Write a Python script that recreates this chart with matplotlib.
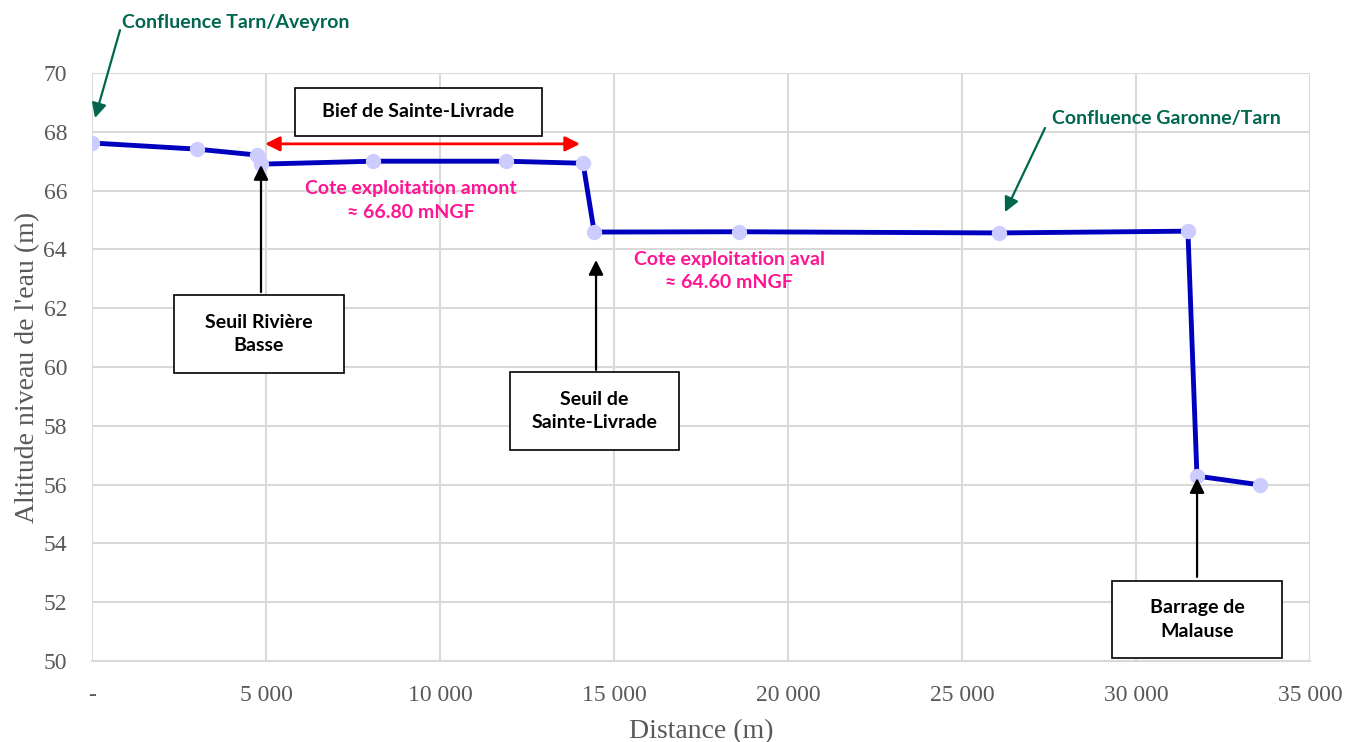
import matplotlib
matplotlib.use("Agg")
import matplotlib.pyplot as plt
from matplotlib.patches import Rectangle
from matplotlib.ticker import FuncFormatter

# profil en long de la ligne d'eau
distance = [0, 3020, 4740, 4860, 8080, 11900, 14110, 14430, 18590, 26060, 31490, 31750, 33560]
altitude = [67.62, 67.41, 67.21, 66.90, 67.00, 67.00, 66.93, 64.59, 64.60, 64.56, 64.62, 56.29, 55.99]

x_ticks = [0, 5000, 10000, 15000, 20000, 25000, 30000, 35000]
y_ticks = [50, 52, 54, 56, 58, 60, 62, 64, 66, 68, 70]

line_col = "#0000BF"
marker_col = "#CCCCFF"
green = "#00664F"
pink = "#FF1493"
grey_txt = "#595959"
grid_col = "#D9D9D9"

fig = plt.figure(figsize=(13.51, 7.42), dpi=100)
ax = fig.add_axes([0.0681, 0.1092, 0.9016, 0.7924])

ax.plot(distance, altitude, color=line_col, lw=3.5, marker="o", ms=10,
        mfc=marker_col, mec=marker_col, zorder=3)

ax.set_xlim(0, 35000)
ax.set_ylim(50, 70)
ax.set_xticks(x_ticks)
ax.set_yticks(y_ticks)


def fmt_thousands(v, pos):
    if v == 0:
        return "-"
    return f"{int(v):,}".replace(",", " ")


ax.xaxis.set_major_formatter(FuncFormatter(fmt_thousands))
ax.grid(True, color=grid_col, lw=1.5)
ax.set_axisbelow(True)
for s in ["top", "right", "left"]:
    ax.spines[s].set_visible(False)
ax.spines["bottom"].set_color(grid_col)
ax.spines["bottom"].set_linewidth(1.5)
ax.tick_params(length=0, labelsize=17, labelcolor=grey_txt)
ax.tick_params(axis="x", pad=17)
ax.tick_params(axis="y", pad=18)
for lab in ax.get_xticklabels() + ax.get_yticklabels():
    lab.set_family("Liberation Serif")

ax.set_xlabel("Distance (m)", fontsize=20, color=grey_txt, family="Liberation Serif", labelpad=10)
ax.set_ylabel("Altitude niveau de l'eau (m)", fontsize=20, color=grey_txt, family="Liberation Serif", labelpad=2)

bold = dict(family="Lato", fontweight="bold", fontsize=14)

# boites noires avec fleche
boxes = [
    ("Seuil Rivière\nBasse", (2356, 59.80), 4885, 2.65, (4856, 62.55), (4856, 66.87)),
    ("Seuil de\nSainte-Livrade", (12011, 57.18), 4857, 2.65, (14483, 59.90), (14483, 63.64)),
    ("Barrage de\nMalause", (29310, 50.10), 4885, 2.62, (31753, 52.86), (31753, 56.22)),
]
for txt, xy, w, h, tail, tip in boxes:
    ax.add_patch(Rectangle(xy, w, h, fill=True, fc="white", ec="black", lw=1.2,
                           clip_on=False, zorder=5))
    ax.text(xy[0] + w / 2, xy[1] + h / 2, txt, ha="center", va="center",
            linespacing=1.45, zorder=6, **bold)
    ax.annotate("", xy=tip, xytext=tail,
                arrowprops=dict(arrowstyle="-|>", color="black", lw=1.6,
                                mutation_scale=22, shrinkA=0, shrinkB=0), zorder=6)

# bief
ax.add_patch(Rectangle((5833, 67.86), 7098, 1.63, fill=True, fc="white", ec="black",
                       lw=1.2, zorder=5))
ax.text(5833 + 7098 / 2, 67.86 + 1.63 / 2, "Bief de Sainte-Livrade", ha="center",
        va="center", zorder=6, **bold)
ax.annotate("", xy=(4971, 67.59), xytext=(14023, 67.59),
            arrowprops=dict(arrowstyle="<|-|>", color="red", lw=2,
                            mutation_scale=22, shrinkA=0, shrinkB=0), zorder=6)

# cotes d'exploitation
ax.text(9167, 65.66, "Cote exploitation amont\n≈ 66.80 mNGF", ha="center", va="center",
        color=pink, linespacing=1.45, **bold)
ax.text(18305, 63.27, "Cote exploitation aval\n≈ 64.60 mNGF", ha="center", va="center",
        color=pink, linespacing=1.45, **bold)

# confluences
ax.text(862, 71.73, "Confluence Tarn/Aveyron", ha="left", va="center", color=green,
        clip_on=False, **bold)
ax.annotate("", xy=(86, 68.47), xytext=(805, 71.46),
            arrowprops=dict(arrowstyle="-|>", color=green, lw=1.6,
                            mutation_scale=22, shrinkA=0, shrinkB=0),
            annotation_clip=False, zorder=6)
ax.text(27586, 68.44, "Confluence Garonne/Tarn", ha="left", va="center", color=green, **bold)
ax.annotate("", xy=(26236, 65.27), xytext=(27385, 68.13),
            arrowprops=dict(arrowstyle="-|>", color=green, lw=1.6,
                            mutation_scale=22, shrinkA=0, shrinkB=0), zorder=6)

fig.savefig("out.png", dpi=100)
